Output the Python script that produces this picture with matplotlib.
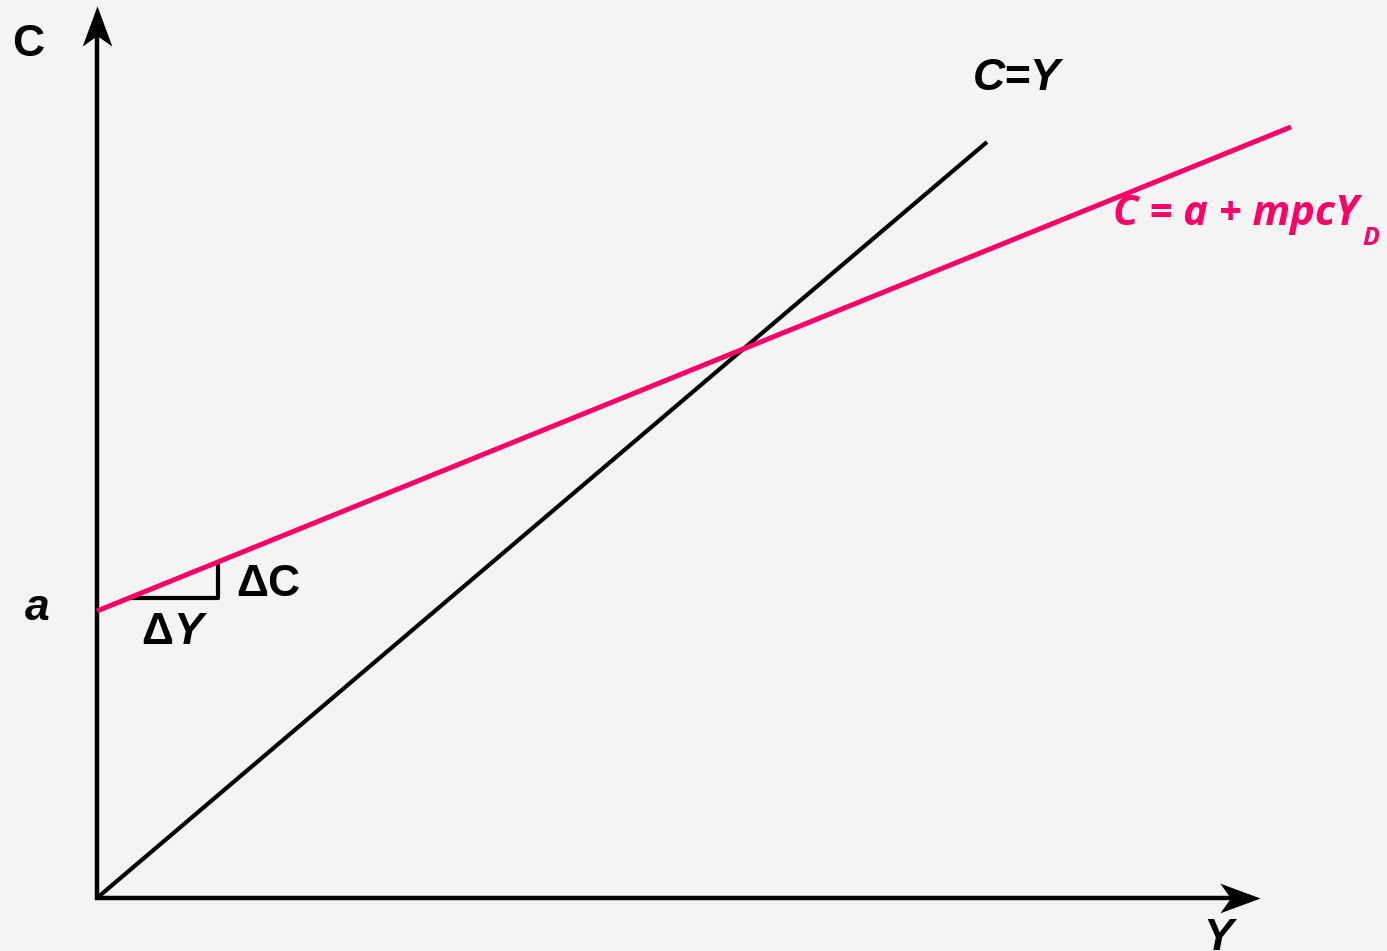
import matplotlib
matplotlib.use("Agg")
import matplotlib.pyplot as plt
from matplotlib.path import Path
import numpy as np

# Data (income Y vs consumption C, arbitrary units)
y45 = [0, 890]
c45 = [0, 756]
y_cons = [0, 1194]
a_val = 287
mpc = 0.4054
c_cons = [a_val + mpc * v for v in y_cons]
tri_y = [31, 121, 121]
tri_c = [a_val + mpc * 31, a_val + mpc * 31, a_val + mpc * 121]

BG = "#f4f4f4"
PINK = "#ff0066"

fig = plt.figure(figsize=(13.87, 9.51), dpi=100, facecolor=BG)
ax = fig.add_axes([0, 0, 1, 1])
ax.set_facecolor(BG)
ax.set_xlim(-97, 1290)
ax.set_ylim(-53, 898)
ax.axis("off")

# axis lines
ax.plot([0, 0], [-2, 875], color="black", lw=3.2, solid_capstyle="butt")
ax.plot([-2, 1145], [0, 0], color="black", lw=3.2, solid_capstyle="butt")
# stealth-like arrowheads as markers
up = Path([(0, 19), (-14, -19), (0, -9), (14, -19), (0, 19)],
          [Path.MOVETO, Path.LINETO, Path.LINETO, Path.LINETO, Path.CLOSEPOLY])
right = Path([(19, 0), (-19, 14), (-9, 0), (-19, -14), (19, 0)],
             [Path.MOVETO, Path.LINETO, Path.LINETO, Path.LINETO, Path.CLOSEPOLY])
ax.plot([0], [872], marker=up, markersize=29, color="black", markeredgewidth=0)
ax.plot([1143], [0], marker=right, markersize=29, color="black", markeredgewidth=0)

ax.plot(y45, c45, color="black", lw=3.0, solid_capstyle="butt")
ax.plot(y_cons, c_cons, color=PINK, lw=3.6, solid_capstyle="butt")
ax.plot(tri_y, tri_c, color="black", lw=3.0, solid_capstyle="butt", zorder=1)

bold = dict(family="Liberation Sans", weight="bold", fontsize=32, color="black")
ax.text(-69, 853, "C", ha="center", va="center", **bold)
ax.text(-60, 290, "a", ha="center", va="center", style="italic", **bold)
ax.text(139, 314, "ΔC", ha="left", va="center", **bold)
ax.text(76, 266, "Δ", ha="right", va="center", **bold)
ax.text(76, 266, "Y", ha="left", va="center", style="italic", **bold)
ax.text(920, 820, "C=Y", ha="center", va="center", style="italic", **bold)
ax.text(1121, -40, "Y", ha="center", va="center", style="italic", **bold)

ax.text(1016, 673, "C = a + mpcY", ha="left", va="baseline", family="Open Sans",
        weight="bold", style="italic", fontsize=30, color=PINK)
ax.text(1265, 653, "D", ha="left", va="baseline", family="Open Sans",
        weight="bold", style="italic", fontsize=18, color=PINK)

fig.savefig("out.png", dpi=100, facecolor=BG)
